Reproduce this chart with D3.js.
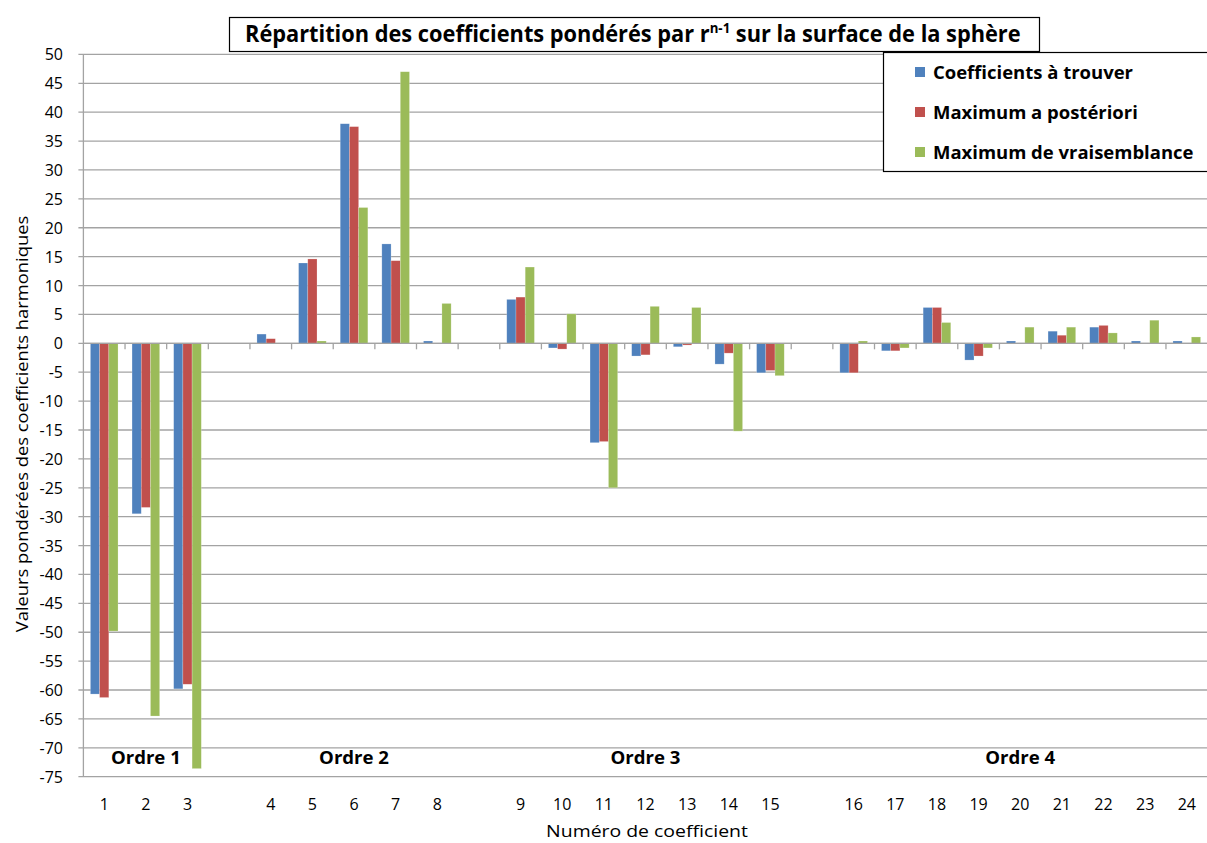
<!DOCTYPE html>
<html>
<head>
<meta charset="utf-8">
<script src="https://cdn.jsdelivr.net/npm/d3@7"></script>
<style>
  html, body { margin: 0; padding: 0; background: #fff; }
  svg { display: block; }
</style>
</head>
<body>
<svg id="chart" width="1207" height="843"></svg>
<script>
// Coefficient numbers and the harmonic order each belongs to
const coefficients = [1, 2, 3, 4, 5, 6, 7, 8, 9, 10, 11, 12, 13, 14, 15, 16, 17, 18, 19, 20, 21, 22, 23, 24];
const orders       = [1, 1, 1, 2, 2, 2, 2, 2, 3, 3, 3, 3, 3, 3, 3, 4, 4, 4, 4, 4, 4, 4, 4, 4];
const orderLabels  = ["Ordre 1", "Ordre 2", "Ordre 3", "Ordre 4"];

// Weighted coefficient values per series
const seriesNames = ["Coefficients à trouver", "Maximum a postériori", "Maximum de vraisemblance"];
const coefATrouver = [-60.7, -29.5, -59.8, 1.6, 13.9, 38.0, 17.2, 0.4, 7.6, -0.8, -17.2, -2.2, -0.6, -3.6, -5.1, -5.1, -1.3, 6.2, -2.9, 0.4, 2.1, 2.8, 0.4, 0.4];
const maxPosteriori = [-61.3, -28.4, -59.0, 0.8, 14.6, 37.5, 14.3, 0, 8.0, -1.0, -17.0, -2.0, -0.3, -1.7, -4.7, -5.1, -1.3, 6.2, -2.2, 0, 1.4, 3.1, 0, 0];
const maxVraisemblance = [-49.8, -64.5, -73.6, 0, 0.4, 23.5, 47.0, 6.9, 13.2, 5.1, -25.0, 6.4, 6.2, -15.2, -5.6, 0.4, -0.8, 3.6, -0.8, 2.8, 2.8, 1.8, 4.0, 1.1];
const seriesColors = ["#4f81bd", "#c0504d", "#9bbb59"];

// Axis settings
const yTicks = [50, 45, 40, 35, 30, 25, 20, 15, 10, 5, 0, -5, -10, -15, -20, -25, -30, -35, -40, -45, -50, -55, -60, -65, -70, -75];
const titleMain = "Répartition des coefficients pondérés par r";
const titleSup = "n-1";
const titleEnd = " sur la surface de la sphère";
const yTitle = "Valeurs pondérées des coefficients harmoniques";
const xTitle = "Numéro de coefficient";

const seriesValues = [coefATrouver, maxPosteriori, maxVraisemblance];

// Build slots: one per coefficient, plus an empty slot between harmonic orders
const slots = [];
coefficients.forEach((c, i) => {
  if (i > 0 && orders[i] !== orders[i - 1]) slots.push({ key: "gap" + orders[i], gap: true });
  slots.push({ key: "c" + c, coef: c, order: orders[i], idx: i });
});

const svg = d3.select("#chart");
const W = 1207, H = 843;
const plotL = 83.4, plotR = 1207.6;

const x = d3.scaleBand().domain(slots.map(s => s.key)).range([plotL, plotR]).padding(0);
const xs = d3.scaleBand().domain(d3.range(seriesNames.length)).range([0, x.bandwidth()]).paddingOuter(0.76).paddingInner(0);
const y = d3.scaleLinear().domain([-75, 50]).range([776.7, 54.4]);

const font = "'Open Sans', sans-serif";
const gridColor = "#a3a3a3";

// Squeeze or stretch a text element horizontally to a given width
function fitWidth(sel, target, tx, ty, rotate) {
  const w = sel.node().getComputedTextLength();
  const sx = target / w;
  sel.attr("transform", `translate(${tx},${ty})${rotate ? " rotate(" + rotate + ")" : ""} scale(${sx},1)`);
}

// Horizontal gridlines
svg.append("g").selectAll("line").data(yTicks).join("line")
  .attr("x1", plotL - 5).attr("x2", W)
  .attr("y1", d => y(d)).attr("y2", d => y(d))
  .attr("stroke", gridColor).attr("stroke-width", 1.3);

// Y tick labels
svg.append("g").selectAll("text").data(yTicks).join("text")
  .attr("x", 63).attr("y", d => y(d))
  .attr("text-anchor", "end").attr("dominant-baseline", "central")
  .attr("font-family", font).attr("font-size", 16).attr("fill", "#000")
  .text(d => d);

// Vertical axis line
svg.append("line")
  .attr("x1", plotL).attr("x2", plotL)
  .attr("y1", y(50)).attr("y2", y(-75))
  .attr("stroke", gridColor).attr("stroke-width", 1.3);

// Bars
const coefSlots = slots.filter(s => !s.gap);
seriesValues.forEach((vals, si) => {
  svg.append("g").selectAll("rect").data(coefSlots).join("rect")
    .attr("x", d => x(d.key) + xs(si))
    .attr("width", xs.bandwidth())
    .attr("y", d => y(Math.max(0, vals[d.idx])))
    .attr("height", d => Math.abs(y(vals[d.idx]) - y(0)))
    .attr("fill", seriesColors[si])
    .attr("stroke", "#ffffff").attr("stroke-opacity", 0.35).attr("stroke-width", 0.6);
});

// Category axis along zero with tick marks between slots
svg.append("line")
  .attr("x1", plotL).attr("x2", W)
  .attr("y1", y(0)).attr("y2", y(0))
  .attr("stroke", gridColor).attr("stroke-width", 1.3);
svg.append("g").selectAll("line").data(slots.slice(1)).join("line")
  .attr("x1", d => x(d.key)).attr("x2", d => x(d.key))
  .attr("y1", y(0)).attr("y2", y(0) + 6)
  .attr("stroke", gridColor).attr("stroke-width", 1.3);

// Category labels below the plot
svg.append("g").selectAll("text").data(coefSlots).join("text")
  .attr("x", d => x(d.key) + x.bandwidth() / 2)
  .attr("y", 804)
  .attr("text-anchor", "middle").attr("dominant-baseline", "central")
  .attr("font-family", font).attr("font-size", 16).attr("fill", "#000")
  .text(d => d.coef);

// Order group labels
orderLabels.forEach((lab, oi) => {
  const grp = coefSlots.filter(s => s.order === oi + 1);
  const cx = (x(grp[0].key) + x(grp[grp.length - 1].key) + x.bandwidth()) / 2;
  const t = svg.append("text")
    .attr("text-anchor", "middle").attr("dominant-baseline", "central")
    .attr("font-family", font).attr("font-weight", "bold").attr("font-size", 17.5).attr("fill", "#000")
    .text(lab);
  fitWidth(t, 70, cx, y(-71.6));
});

// Axis titles
const yt = svg.append("text")
  .attr("text-anchor", "middle").attr("dominant-baseline", "central")
  .attr("font-family", font).attr("font-size", 16.5).attr("fill", "#000")
  .text(yTitle);
fitWidth(yt, 417, 21, 424, -90);
const xt = svg.append("text")
  .attr("text-anchor", "middle").attr("dominant-baseline", "central")
  .attr("font-family", font).attr("font-size", 16.5).attr("fill", "#000")
  .text(xTitle);
fitWidth(xt, 202, 647, 831);

// Title box
svg.append("rect")
  .attr("x", 229.5).attr("y", 17.5).attr("width", 810).attr("height", 34)
  .attr("fill", "#fff").attr("stroke", "#000").attr("stroke-width", 1.2);
const title = svg.append("text")
  .attr("font-family", font).attr("font-weight", "bold").attr("font-size", 23).attr("fill", "#000");
title.append("tspan").text(titleMain);
title.append("tspan").attr("font-size", 14).attr("dy", -9).text(titleSup);
title.append("tspan").attr("dy", 9).text(titleEnd);
fitWidth(title, 776, 245, 42);

// Legend
const lg = svg.append("g");
lg.append("rect")
  .attr("x", 883.5).attr("y", 52.5).attr("width", 330).attr("height", 119)
  .attr("fill", "#fff").attr("stroke", "#000").attr("stroke-width", 1.2);
let legendScale = null;
seriesNames.forEach((name, i) => {
  const cy = 72 + i * 40;
  lg.append("rect").attr("x", 915).attr("y", cy - 5).attr("width", 10).attr("height", 10).attr("fill", seriesColors[i]);
  const t = lg.append("text")
    .attr("dominant-baseline", "central")
    .attr("font-family", font).attr("font-weight", "bold").attr("font-size", 17).attr("fill", "#000")
    .text(name);
  if (legendScale === null) legendScale = 200 / t.node().getComputedTextLength();
  t.attr("transform", `translate(933,${cy}) scale(${legendScale},1)`);
});
</script>
</body>
</html>
